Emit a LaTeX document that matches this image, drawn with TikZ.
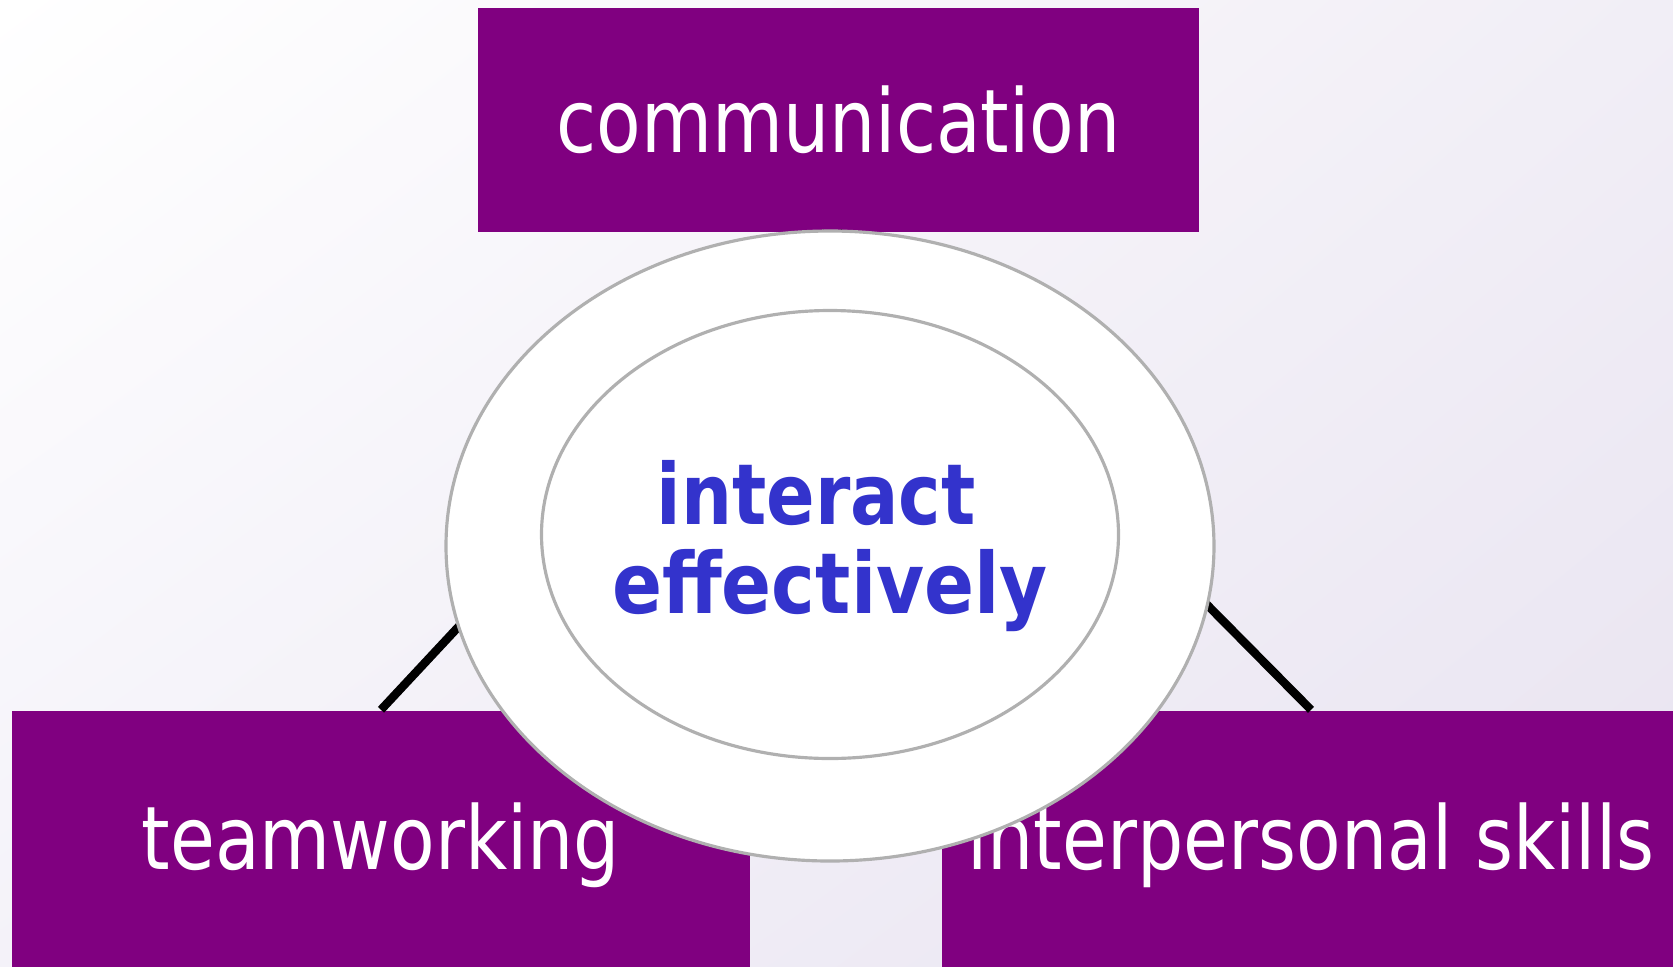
\documentclass[tikz,border=0pt]{standalone}
\usepackage{fontspec}
\setmainfont{DejaVu Sans}
\usepackage{graphicx}
\usepackage{tikz}
\usetikzlibrary{calc,shapes.geometric,shadings}

\definecolor{boxpurple}{RGB}{128,0,128}
\definecolor{textblue}{RGB}{51,51,204}
\definecolor{ringgray}{RGB}{176,176,176}
\definecolor{bgtr}{RGB}{241,238,246}
\definecolor{bgbl}{RGB}{244,242,249}
\definecolor{bgbr}{RGB}{232,227,240}

\newcommand{\squeezed}[2][0.83]{\scalebox{#1}[1]{#2}}

\begin{document}
\begin{tikzpicture}[
	box/.style={fill=boxpurple, text=white, inner sep=0pt, font=\fontsize{25}{30}\selectfont},
	link/.style={line width=2.4pt},
	ring/.style={ellipse, draw=ringgray, fill=white, line width=0.9pt, inner sep=0pt}]
	\useasboundingbox (0,0) rectangle (16.73,-9.66);
	\clip (0,0) rectangle (16.73,-9.66);

	%background
	\shade[upper left=white, upper right=bgtr, lower left=bgbl, lower right=bgbr] (0,0) rectangle (16.73,-9.66);

	%boxes
	\node[box, minimum width=7.21cm, minimum height=2.24cm] (comm) at (8.385,-1.195) {\squeezed{communication}};
	\node[box, minimum width=7.38cm, minimum height=2.70cm] (team) at (3.81,-8.455) {\squeezed{teamworking}};
	\node[box, minimum width=7.38cm, minimum height=2.70cm] (inter) at (13.11,-8.455) {\squeezed{interpersonal skills}};

	%links
	\draw[link] (team.north) -- ($(comm.south)+(-0.12,0)$);
	\draw[link] (inter.north) -- (comm.south);

	%ellipses
	\node[ring, minimum width=7.68cm, minimum height=6.30cm] (outer) at (8.30,-5.46) {};
	\node[ring, minimum width=5.77cm, minimum height=4.48cm] (inner) at (8.30,-5.345) {};

	%centre text
	\node[text=textblue, align=center, font=\bfseries\fontsize{24}{25.3}\selectfont] (goal) at (outer.center) {\squeezed[0.85]{interact}\hspace*{0.28cm}\\\squeezed[0.875]{effectively}};
\end{tikzpicture}
\end{document}
